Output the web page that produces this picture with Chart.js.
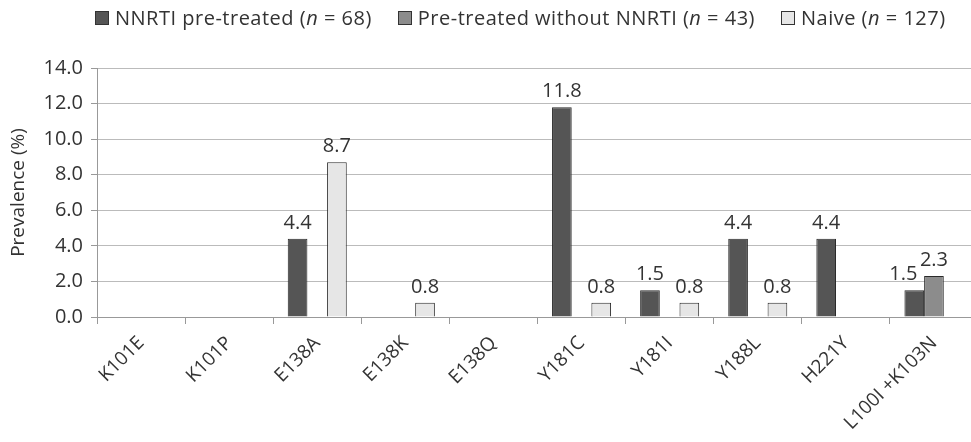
<!DOCTYPE html>
<html>
<head>
<meta charset="utf-8">
<script src="https://cdn.jsdelivr.net/npm/chart.js@4.4.1/dist/chart.umd.min.js"></script>
<style>
  html, body { margin: 0; padding: 0; background: #fff; overflow: hidden; }
  #wrap { position: relative; width: 978px; height: 442px; }
  #legend {
    position: absolute; top: 4px; left: 95px;
    display: flex; font-family: "Open Sans", sans-serif; font-size: 20px; color: #333;
    letter-spacing: 0.5px; white-space: nowrap;
  }
  .item { display: flex; align-items: center; margin-right: 26px; }
  .box { width: 12px; height: 12px; border: 1px solid #333; margin-right: 6px; }
</style>
</head>
<body>
<div id="wrap">
  <div id="legend"></div>
  <canvas id="myChart"></canvas>
</div>
<script>
// categorías (mutaciones)
const labels = ['K101E', 'K101P', 'E138A', 'E138K', 'E138Q', 'Y181C', 'Y181I', 'Y188L', 'H221Y', 'L100I +K103N'];

// valores por grupo (%)
const nnrtiPretreated = [0, 0, 4.4, 0, 0, 11.8, 1.5, 4.4, 4.4, 1.5];
const pretreatedWithoutNnrti = [0, 0, 0, 0, 0, 0, 0, 0, 0, 2.3];
const naive = [0, 0, 8.7, 0.8, 0, 0.8, 0.8, 0.8, 0, 0];

const yTicks = [0, 2, 4, 6, 8, 10, 12, 14];

const seriesNames = [
    ['NNRTI pre-treated', '68'],
    ['Pre-treated without NNRTI', '43'],
    ['Naive', '127']
];

const FONT = '"Open Sans", sans-serif';

// etiquetas de valor encima de las barras
const valueLabels = {
    id: 'valueLabels',
    afterDatasetsDraw(chart) {
        const ctx = chart.ctx;
        ctx.save();
        ctx.font = '20px ' + FONT;
        ctx.fillStyle = '#333';
        ctx.textAlign = 'center';
        ctx.textBaseline = 'alphabetic';
        const n = chart.data.datasets.length;
        chart.data.datasets.forEach((ds, i) => {
            const meta = chart.getDatasetMeta(i);
            meta.data.forEach((bar, j) => {
                const v = ds.data[j];
                if (!v) return;
                let x = bar.x;
                // si la barra vecina también tiene etiqueta, se aparta un poco
                if (i + 1 < n && chart.data.datasets[i + 1].data[j]) x -= 11;
                ctx.fillText(v.toFixed(1), x, bar.y - 10);
            });
        });
        ctx.restore();
    }
};

const ctx = document.getElementById('myChart').getContext('2d');
const chart = new Chart(ctx, {
    type: 'bar',
    data: {
        labels: labels,
        datasets: [
            { label: seriesNames[0][0], data: nnrtiPretreated, backgroundColor: '#555555' },
            { label: seriesNames[1][0], data: pretreatedWithoutNnrti, backgroundColor: '#8c8c8c' },
            { label: seriesNames[2][0], data: naive, backgroundColor: '#e6e6e6' }
        ].map(ds => Object.assign(ds, {
            borderColor: '#2a2a2a',
            borderWidth: 1,
            categoryPercentage: 0.67,
            barPercentage: 1.0
        }))
    },
    options: {
        responsive: true,
        maintainAspectRatio: false,
        animation: false,
        layout: { padding: { top: 68, left: 0, right: 0, bottom: 0 } },
        plugins: {
            legend: { display: false },
            tooltip: { enabled: false }
        },
        scales: {
            y: {
                min: 0,
                max: 14,
                afterBuildTicks: axis => { axis.ticks = yTicks.map(v => ({ value: v })); },
                afterFit: scale => { scale.width = 97; },
                ticks: {
                    callback: v => v.toFixed(1),
                    font: { family: FONT, size: 20 },
                    color: '#333',
                    padding: 8
                },
                grid: { color: '#bbbbbb', tickLength: 6, tickColor: '#999' },
                border: { color: '#999' },
                title: {
                    display: true,
                    text: 'Prevalence (%)',
                    font: { family: FONT, size: 19 },
                    color: '#333',
                    padding: { top: 7, bottom: 0 }
                }
            },
            x: {
                afterFit: scale => { scale.height = 125; },
                grid: { offset: true, drawOnChartArea: false, tickLength: 7, color: '#999' },
                border: { color: '#999' },
                ticks: {
                    minRotation: 45,
                    maxRotation: 45,
                    autoSkip: false,
                    padding: 8,
                    font: { family: FONT, size: 19 },
                    color: '#333'
                }
            }
        }
    },
    plugins: [valueLabels]
});

// leyenda en HTML (para la n en cursiva)
const legendEl = document.getElementById('legend');
chart.data.datasets.forEach((ds, i) => {
    const item = document.createElement('div');
    item.className = 'item';
    const box = document.createElement('span');
    box.className = 'box';
    box.style.background = ds.backgroundColor;
    const text = document.createElement('span');
    text.innerHTML = seriesNames[i][0] + ' (<i>n</i> = ' + seriesNames[i][1] + ')';
    item.appendChild(box);
    item.appendChild(text);
    legendEl.appendChild(item);
});
</script>
</body>
</html>
